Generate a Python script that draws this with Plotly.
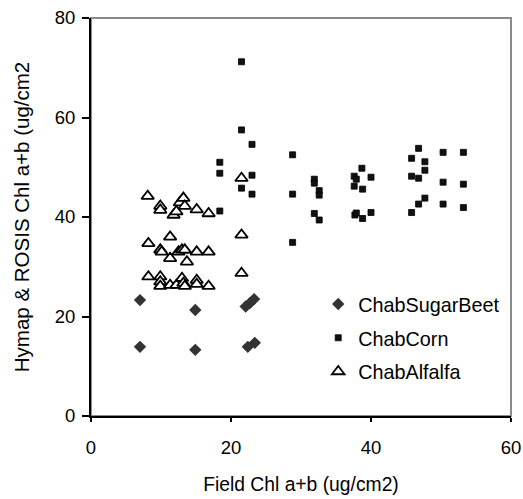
import plotly.graph_objects as go

# ---- data ----
beet_x = [7.0, 7.0, 14.9, 14.9, 22.1, 22.7, 23.3, 22.4, 23.4]
beet_y = [23.3, 13.9, 21.3, 13.3, 22.0, 22.7, 23.5, 13.9, 14.7]

corn_x = [21.5, 21.5, 23.0, 18.4, 18.4, 18.4, 21.5, 23.0, 23.0,
          28.8, 28.8, 28.8,
          31.9, 31.9, 32.6, 32.6, 31.9, 32.6,
          38.7, 37.6, 37.9, 40.0, 37.6, 38.8, 37.7, 37.9, 38.8, 40.0,
          46.8, 45.8, 47.7, 47.7, 45.8, 46.8, 47.7, 46.8, 45.8,
          50.3, 53.2, 50.3, 53.2, 50.3, 53.2]
corn_y = [71.2, 57.5, 54.6, 51.0, 48.8, 41.2, 45.8, 48.4, 44.6,
          52.5, 44.6, 34.9,
          47.6, 46.8, 45.3, 44.4, 40.7, 39.4,
          49.8, 48.2, 47.6, 48.0, 46.2, 45.6, 40.4, 40.8, 39.7, 40.9,
          53.8, 51.8, 51.1, 49.4, 48.2, 47.8, 43.8, 42.6, 40.9,
          53.0, 53.0, 47.0, 46.6, 42.6, 41.9]

alf_x = [8.1, 9.9, 9.9, 11.8, 12.2, 12.7, 13.2, 13.4, 15.1, 16.8,
         8.2, 11.3, 9.9, 10.1, 11.3, 12.5, 13.0, 13.4, 13.7, 15.1, 16.8,
         8.2, 9.9, 9.9, 9.9, 11.3, 12.2, 13.0, 13.2, 13.4, 15.1, 15.1, 16.8,
         21.5, 21.5, 21.5]
alf_y = [44.2, 42.2, 41.4, 40.4, 41.1, 42.9, 43.8, 42.2, 41.5, 40.7,
         34.7, 36.0, 33.4, 33.0, 31.7, 33.0, 33.4, 33.4, 31.0, 33.0, 33.0,
         28.0, 28.0, 27.0, 26.1, 26.3, 26.3, 27.7, 26.7, 26.1, 27.3, 26.5, 26.1,
         47.8, 36.4, 28.7]

x_ticks = [0, 20, 40, 60]
y_ticks = [0, 20, 40, 60, 80]
x_title = "Field Chl a+b (ug/cm2)"
y_title = "Hymap & ROSIS Chl a+b (ug/cm2"

FONT = "Liberation Sans, Arial, sans-serif"

fig = go.Figure()
fig.add_trace(go.Scatter(
    x=beet_x, y=beet_y, mode="markers", name="ChabSugarBeet",
    legendgroup="a",
    marker=dict(symbol="diamond", size=9.5, color="#333333", line=dict(width=0)),
))
fig.add_trace(go.Scatter(
    x=corn_x, y=corn_y, mode="markers", name="ChabCorn",
    legendgroup="b",
    marker=dict(symbol="square", size=6, color="#111111", line=dict(width=0.8, color="#000000")),
))
fig.add_trace(go.Scatter(
    x=alf_x, y=alf_y, mode="markers", name="ChabAlfalfa",
    legendgroup="c",
    marker=dict(symbol="triangle-up", size=11, color="white", line=dict(width=1.8, color="#000000")),
))

fig.add_shape(type="rect", xref="paper", yref="paper", x0=0, x1=1, y0=0, y1=1,
              line=dict(color="#8a8a8a", width=2), layer="below")

fig.update_layout(
    width=523, height=499,
    margin=dict(l=91, r=12, t=18, b=83, autoexpand=False),
    paper_bgcolor="white", plot_bgcolor="white",
    font=dict(family=FONT, size=19, color="black"),
    showlegend=True,
    legend=dict(x=0.541, y=0.33, xanchor="left", yanchor="top",
                bgcolor="rgba(0,0,0,0)", borderwidth=0,
                traceorder="grouped", tracegroupgap=5,
                font=dict(family=FONT, size=19.8, color="black")),
    xaxis=dict(range=[0, 60], tickvals=x_ticks, ticktext=[str(v) for v in x_ticks],
               showgrid=False, zeroline=False, showline=True, linecolor="black", linewidth=2,
               ticks="outside", ticklen=4, tickwidth=1.5, tickcolor="black",
               tickfont=dict(size=18.5), ticklabelstandoff=10, automargin=False,
               title=dict(text=x_title, font=dict(size=19.3), standoff=20)),
    yaxis=dict(range=[0, 80], tickvals=y_ticks, ticktext=[str(v) for v in y_ticks],
               showgrid=False, zeroline=False, showline=True, linecolor="black", linewidth=2,
               ticks="outside", ticklen=7, tickwidth=1.5, tickcolor="black",
               tickfont=dict(size=18.5), ticklabelstandoff=3, automargin=False,
               title=dict(text=y_title, font=dict(size=20.5), standoff=20)),
)

fig.write_html("out.html")
